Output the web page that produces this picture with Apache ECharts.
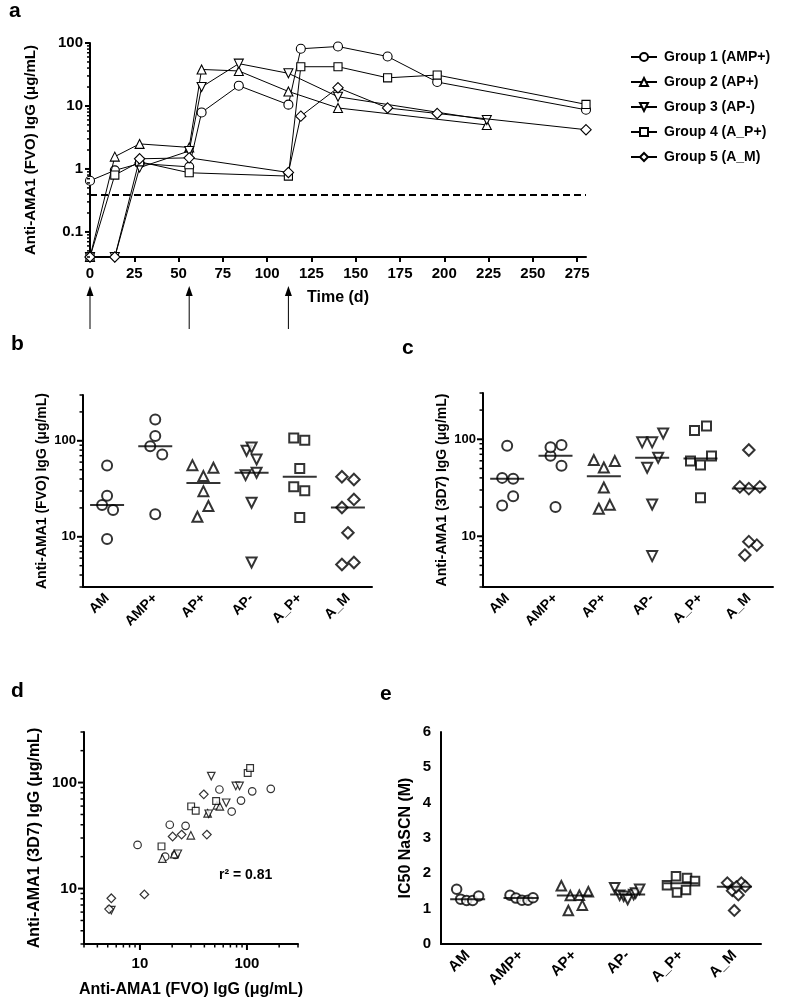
<!DOCTYPE html>
<html><head><meta charset="utf-8">
<script src="https://cdn.jsdelivr.net/npm/echarts@6/dist/echarts.min.js"></script>
<style>html,body{margin:0;padding:0;background:#fff}#c{width:800px;height:1008px}</style>
</head><body><div id="c"></div>
<script>
// ---------- Panel a : time course ----------
const groupNames = ['Group 1 (AMP+)', 'Group 2 (AP+)', 'Group 3 (AP-)', 'Group 4 (A_P+)', 'Group 5 (A_M)'];
const g1Days = [0, 14, 28, 56, 63, 84, 112, 119, 140, 168, 196, 280];
const g1Vals = [0.65, 0.95, 1.22, 1.08, 7.9, 21, 10.5, 81, 88, 61, 24, 8.7];
const g2Days = [0, 14, 28, 56, 63, 84, 112, 140, 224];
const g2Vals = [0.04, 1.57, 2.5, 2.2, 38, 36, 17, 9.3, 5.0];
const g3Days = [0, 14, 28, 56, 63, 84, 112, 140, 224];
const g3Vals = [0.04, 0.04, 1.05, 1.93, 20, 47, 33, 14, 6.0];
const g4Days = [0, 14, 28, 56, 112, 119, 140, 168, 196, 280];
const g4Vals = [0.04, 0.8, 1.3, 0.87, 0.77, 42, 42, 28, 31, 10.6];
const g5Days = [0, 14, 28, 56, 112, 119, 140, 168, 196, 280];
const g5Vals = [0.04, 0.04, 1.45, 1.5, 0.88, 6.9, 19.5, 9.3, 7.6, 4.2];
const detectionLimit = 0.39;
const boostDays = [0, 56, 112];
const timeTicks = [0, 25, 50, 75, 100, 125, 150, 175, 200, 225, 250, 275];

// ---------- Panels b, c, d, e ----------
const categories = ['AM', 'AMP+', 'AP+', 'AP-', 'A_P+', 'A_M'];
// anti-AMA1 FVO IgG (panel b) and 3D7 IgG (panel c), same animal order
const fvoAM   = [9.5, 19, 21.4, 26.7, 55.3];
const d7AM    = [25.8, 40, 20.8, 39.1, 86];
const fvoAMPp = [17.2, 72, 88, 112, 167];
const d7AMPp  = [20, 53.3, 67.6, 82.6, 87.3];
const fvoAPp  = [16.2, 20.9, 29.9, 42.9, 52.4, 55.8];
const d7APp   = [19.2, 21.1, 31.8, 51.2, 61, 59.6];
const fvoAPm  = [5.4, 22.6, 43.9, 46.4, 64, 78.7, 85.3];
const d7APm   = [6.25, 21.3, 50.8, 115, 64.5, 93, 93];
const fvoA_Pp = [15.9, 30.1, 33.2, 51.5, 101.6, 107];
const d7A_Pp  = [25, 59.6, 54.2, 67.1, 123, 137];
const fvoA_M  = [5.15, 5.4, 11, 20.2, 24.5, 39.5, 42.2];
const d7A_M   = [6.4, 8.1, 8.8, 31, 32.3, 77.5, 32.3];
// IC50 NaSCN (panel e)
const ic50AM   = [1.55, 1.27, 1.23, 1.23, 1.36];
const ic50AMPp = [1.38, 1.30, 1.24, 1.24, 1.31];
const ic50APp  = [1.65, 0.95, 1.37, 1.38, 1.10, 1.48];
const ic50APm  = [1.59, 1.38, 1.35, 1.26, 1.40, 1.44, 1.55];
const ic50A_Pp = [1.66, 1.92, 1.46, 1.53, 1.87, 1.78];
const ic50A_M  = [1.73, 1.51, 1.39, 1.73, 1.63, 0.95, 1.62];
const r2Text = 'r\u00b2 = 0.81';

// ---------- layout / style (kept apart from data) ----------
const spreadB = [[0, 6, -5, 0, 0], [0, 7, -5, 0, 0], [-6, 5, 0, 0, 10, -11], [0, 0, -6, 5, 5, -5, 0], [0, 5, -6, 0, 5, -6], [-6, 6, 0, -6, 6, 6, -6]];
const spreadC = [[6, -5, -5, 6, 0], [0, 6, -5, -5, 6], [-5, 6, 0, 0, -10, 11], [0, 0, -5, 11, 6, -10, 0], [0, -10, 0, 11, -6, 6], [-4, 8, 0, 0, -9, 0, 11]];
const spreadE = [[-11, -7, -1, 5, 11], [-11, -5, 1, 7, 12], [-13, -6, -4, 5, 8, 14], [-13, -8, -4, 0, 6, 8, 12], [-14, -5, -4, 5, 6, 14], [-7, -2, 4, 7, 11, 0, 2]];
const GRIDS = [
  {left: 90, top: 43, width: 496, height: 214},
  {left: 83, top: 395, width: 289, height: 192},
  {left: 483, top: 393, width: 290, height: 194},
  {left: 84, top: 732, width: 214, height: 212},
  {left: 441, top: 732, width: 320, height: 212}
];

const FONT = '"Liberation Sans", Arial, Helvetica, sans-serif';
const fvo = [fvoAM, fvoAMPp, fvoAPp, fvoAPm, fvoA_Pp, fvoA_M];
const d7 = [d7AM, d7AMPp, d7APp, d7APm, d7A_Pp, d7A_M];
const ic50 = [ic50AM, ic50AMPp, ic50APp, ic50APm, ic50A_Pp, ic50A_M];
const catShape = [
  {symbol: 'circle', rot: 0, k: 1.0},
  {symbol: 'circle', rot: 0, k: 1.0},
  {symbol: 'triangle', rot: 0, k: 1.0},
  {symbol: 'triangle', rot: 180, k: 1.0},
  {symbol: 'rect', rot: 0, k: 0.9},
  {symbol: 'diamond', rot: 0, k: 1.15}
];
const groupShape = [catShape[0], catShape[2], catShape[3], catShape[4], catShape[5]];
const groupDays = [g1Days, g2Days, g3Days, g4Days, g5Days];
const groupVals = [g1Vals, g2Vals, g3Vals, g4Vals, g5Vals];

function median(a) {
  const s = a.slice().sort((x, y) => x - y), n = s.length;
  return n % 2 ? s[(n - 1) / 2] : (s[n / 2 - 1] + s[n / 2]) / 2;
}
function isPow10(v) { const l = Math.log10(v); return Math.abs(l - Math.round(l)) < 1e-6; }
function logTicks(lo, hi) {
  const out = [];
  for (let e = Math.floor(Math.log10(lo)) - 1; e <= Math.ceil(Math.log10(hi)); e++) {
    for (let m = 1; m <= 9; m++) {
      const v = +(m * Math.pow(10, e)).toPrecision(6);
      if (v >= lo * 0.9999 && v <= hi * 1.0001) out.push([v, m === 1 ? 1 : 0]);
    }
  }
  return out;
}
const hollow = (w) => ({color: '#fff', borderColor: '#000', borderWidth: w});
const bold = (size) => ({fontFamily: FONT, fontWeight: 'bold', fontSize: size, color: '#000'});
const axisLine = {show: true, onZero: false, lineStyle: {color: '#000', width: 2}};

const series = [];
groupNames.forEach((name, g) => {
  const sh = groupShape[g];
  series.push({
    name: name, type: 'line', xAxisIndex: 0, yAxisIndex: 0,
    data: groupDays[g].map((d, i) => [d, groupVals[g][i]]),
    symbol: sh.symbol, symbolRotate: sh.rot, symbolSize: 9 * sh.k, showSymbol: true,
    itemStyle: hollow(1.1), lineStyle: {color: '#000', width: 1}, z: 3 + g,
    markLine: g === 0 ? {
      silent: true, symbol: ['none', 'none'], label: {show: false},
      lineStyle: {color: '#000', width: 2, type: [7, 4]},
      data: [{yAxis: detectionLimit}]
    } : undefined
  });
});

[[1, fvo, spreadB], [2, d7, spreadC]].forEach(([idx, vals, spread]) => {
  categories.forEach((c, ci) => {
    const sh = catShape[ci];
    series.push({
      type: 'scatter', xAxisIndex: idx, yAxisIndex: idx,
      symbol: sh.symbol, symbolRotate: sh.rot, symbolSize: 10 * sh.k,
      itemStyle: hollow(2),
      data: vals[ci].map((v, i) => ({value: [ci, v], symbolOffset: [spread[ci][i], 0]}))
    });
    series.push({
      type: 'scatter', xAxisIndex: idx, yAxisIndex: idx, symbol: 'rect', symbolSize: [34, 2],
      itemStyle: {color: '#000'}, z: 4, data: [[ci, median(vals[ci])]]
    });
  });
});

categories.forEach((c, ci) => {
  const sh = catShape[ci];
  series.push({
    type: 'scatter', xAxisIndex: 3, yAxisIndex: 3,
    symbol: sh.symbol, symbolRotate: sh.rot, symbolSize: 7.5 * sh.k,
    itemStyle: hollow(1.2),
    data: fvo[ci].map((v, i) => [v, d7[ci][i]])
  });
});

categories.forEach((c, ci) => {
  const sh = catShape[ci];
  series.push({
    type: 'scatter', xAxisIndex: 4, yAxisIndex: 4,
    symbol: sh.symbol, symbolRotate: sh.rot, symbolSize: 9.5 * sh.k,
    itemStyle: hollow(2),
    data: ic50[ci].map((v, i) => ({value: [ci, v], symbolOffset: [spreadE[ci][i], 0]}))
  });
  series.push({
    type: 'scatter', xAxisIndex: 4, yAxisIndex: 4, symbol: 'rect', symbolSize: [35, 2],
    itemStyle: {color: '#000'}, z: 4, data: [[ci, median(ic50[ci])]]
  });
});

const logLabel = (size) => Object.assign(bold(size), {margin: 7, formatter: v => isPow10(v) ? String(+v.toPrecision(6)) : ''});
const catAxis = (idx, size) => ({
  type: 'category', gridIndex: idx, data: categories, boundaryGap: true,
  axisLine: axisLine, axisTick: {alignWithLabel: true, length: 6, lineStyle: {color: '#000', width: 2}},
  axisLabel: Object.assign(bold(size), {rotate: 45, margin: 9, interval: 0}),
  splitLine: {show: false}
});
const yName = (text, size, gap) => ({
  name: text, nameLocation: 'middle', nameGap: gap, nameRotate: 90, nameMoveOverlap: false,
  nameTextStyle: bold(size)
});

const option = {
  animation: false,
  backgroundColor: '#fff',
  grid: GRIDS.map(g => Object.assign({outerBoundsMode: 'none'}, g)),
  legend: {
    data: groupNames, orient: 'vertical', left: 625, top: 45, itemWidth: 26, itemHeight: 10, itemGap: 11,
    textStyle: Object.assign(bold(14), {padding: [0, 0, 0, 2]}), selectedMode: false
  },
  xAxis: [
    {type: 'value', gridIndex: 0, min: 0, max: 280, interval: 25,
     name: 'Time (d)', nameLocation: 'middle', nameGap: 33, nameMoveOverlap: false, nameTextStyle: bold(16),
     axisLine: axisLine,
     axisTick: {length: 5, lineStyle: {color: '#000', width: 2}, customValues: timeTicks},
     axisLabel: Object.assign(bold(15), {margin: 9, customValues: timeTicks}),
     splitLine: {show: false}},
    catAxis(1, 14),
    catAxis(2, 14),
    Object.assign({type: 'log', logBase: 10, gridIndex: 3, min: 3, max: 300,
     axisLine: axisLine, axisTick: {show: false},
     axisLabel: Object.assign(logLabel(15), {margin: 12}), splitLine: {show: false}, minorSplitLine: {show: false}},
     {name: 'Anti-AMA1 (FVO) IgG (\u03bcg/mL)', nameLocation: 'middle', nameGap: 38, nameMoveOverlap: false, nameTextStyle: bold(16)}),
    catAxis(4, 15)
  ],
  yAxis: [
    Object.assign({type: 'log', logBase: 10, gridIndex: 0, min: 0.04, max: 100,
     axisLine: axisLine, axisTick: {show: false}, axisLabel: logLabel(15), splitLine: {show: false}},
     yName('Anti-AMA1 (FVO) IgG (\u03bcg/mL)', 15, 52)),
    Object.assign({type: 'log', logBase: 10, gridIndex: 1, min: 3, max: 300,
     axisLine: axisLine, axisTick: {show: false}, axisLabel: logLabel(13), splitLine: {show: false}},
     yName('Anti-AMA1 (FVO) IgG (\u03bcg/mL)', 14, 34)),
    Object.assign({type: 'log', logBase: 10, gridIndex: 2, min: 3, max: 300,
     axisLine: axisLine, axisTick: {show: false}, axisLabel: logLabel(13), splitLine: {show: false}},
     yName('Anti-AMA1 (3D7) IgG (\u03bcg/mL)', 14, 34)),
    Object.assign({type: 'log', logBase: 10, gridIndex: 3, min: 3, max: 300,
     axisLine: axisLine, axisTick: {show: false}, axisLabel: logLabel(15), splitLine: {show: false}},
     yName('Anti-AMA1 (3D7) IgG (\u03bcg/mL)', 16, 41)),
    Object.assign({type: 'value', gridIndex: 4, min: 0, max: 6, interval: 1,
     axisLine: axisLine, axisTick: {length: 6, lineStyle: {color: '#000', width: 2}},
     axisLabel: Object.assign(bold(15), {margin: 10}), splitLine: {show: false}},
     yName('IC50 NaSCN (M)', 16, 27))
  ],
  series: series
};

const chart = echarts.init(document.getElementById('c'), null, {renderer: 'canvas'});
chart.setOption(option);

const letters = [['a', 9, 1], ['b', 11, 334], ['c', 402, 338], ['d', 11, 681], ['e', 380, 684]];
const graphics = letters.map(([t, x, y]) => ({
  type: 'text', x: x, y: y, silent: true,
  style: {text: t, fontFamily: FONT, fontWeight: 'bold', fontSize: 21, fill: '#000'}
}));
graphics.push({type: 'text', x: 219, y: 868, silent: true,
  style: {text: r2Text, fontFamily: FONT, fontWeight: 'bold', fontSize: 14, fill: '#000'}});
boostDays.forEach(d => {
  const x = chart.convertToPixel({gridIndex: 0}, [d, 1])[0];
  graphics.push({type: 'line', silent: true, shape: {x1: x, y1: 329, x2: x, y2: 293},
    style: {stroke: '#000', lineWidth: 1}});
  graphics.push({type: 'polygon', silent: true, shape: {points: [[x, 286], [x - 3.5, 296], [x + 3.5, 296]]},
    style: {fill: '#000'}});
});
// log-axis major/minor ticks placed through the grids' own scales
const refX = [0, 0, 0, 10, 0];
const refY = [1, 10, 10, 10, 1];
function yTicks(idx, lo, hi, majorLen, minorLen) {
  const x0 = GRIDS[idx].left;
  logTicks(lo, hi).forEach(([v, m]) => {
    const y = chart.convertToPixel({gridIndex: idx}, [refX[idx], v])[1];
    graphics.push({type: 'line', silent: true, z: 10,
      shape: {x1: x0 - (m ? majorLen : minorLen), y1: y, x2: x0, y2: y},
      style: {stroke: '#000', lineWidth: m ? 2 : 1.5}});
  });
}
function xTicks(idx, lo, hi, majorLen, minorLen) {
  const y0 = GRIDS[idx].top + GRIDS[idx].height;
  logTicks(lo, hi).forEach(([v, m]) => {
    const x = chart.convertToPixel({gridIndex: idx}, [v, refY[idx]])[0];
    graphics.push({type: 'line', silent: true, z: 10,
      shape: {x1: x, y1: y0, x2: x, y2: y0 + (m ? majorLen : minorLen)},
      style: {stroke: '#000', lineWidth: m ? 2 : 1.5}});
  });
}
yTicks(0, 0.04, 100, 5, 3);
yTicks(1, 3, 300, 6, 3.5);
yTicks(2, 3, 300, 6, 3.5);
yTicks(3, 3, 300, 6, 3.5);
xTicks(3, 3, 300, 6, 3.5);
chart.setOption({graphic: graphics});
</script>
</body></html>
